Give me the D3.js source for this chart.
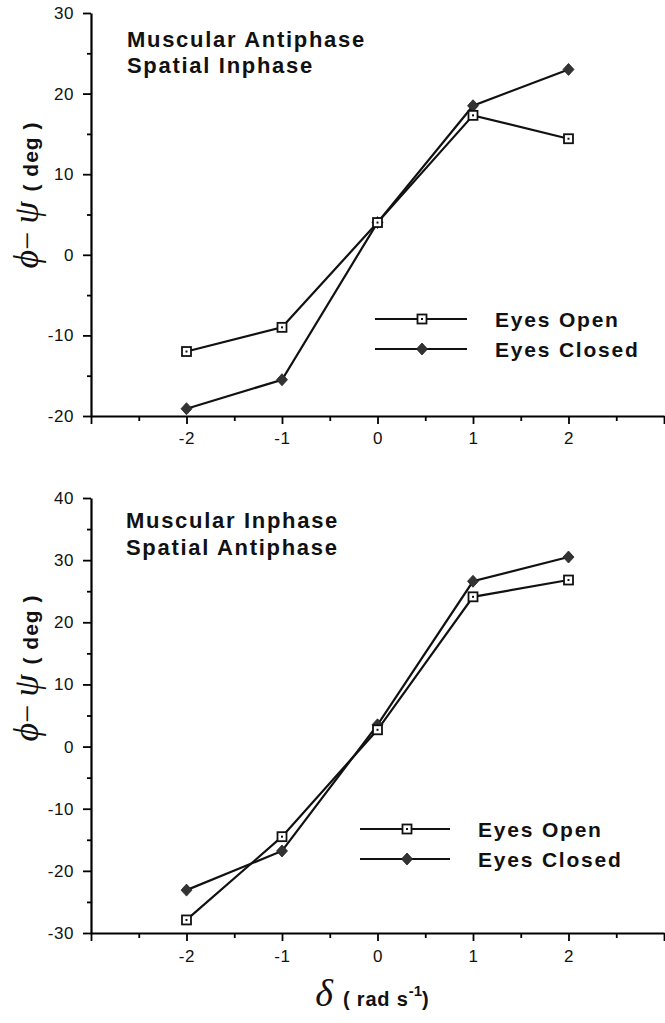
<!DOCTYPE html>
<html>
<head>
<meta charset="utf-8">
<script src="https://cdn.jsdelivr.net/npm/d3@7"></script>
<style>
  body { margin: 0; background: #fff; }
  svg { display: block; }
  .tick text { font-family: "Liberation Sans", Arial, sans-serif; }
</style>
</head>
<body>
<div id="chart"></div>
<script>
// delta values on the x axis (rad s^-1)
const deltas = [-2, -1, 0, 1, 2];

// top panel: muscular antiphase / spatial inphase
const topOpen   = [-12, -9, 4, 17.3, 14.4];
const topClosed = [-19.1, -15.5, 4, 18.5, 23];

// bottom panel: muscular inphase / spatial antiphase
const botOpen   = [-27.9, -14.5, 2.7, 24.1, 26.8];
const botClosed = [-23.1, -16.8, 3.5, 26.6, 30.5];

const xMajor = [-3, -2, -1, 0, 1, 2, 3];
const xMinor = [-2.5, -1.5, -0.5, 0.5, 1.5, 2.5];
const topYMajor = [-20, -10, 0, 10, 20, 30];
const topYMinor = [-15, -5, 5, 15, 25];
const botYMajor = [-30, -20, -10, 0, 10, 20, 30, 40];
const botYMinor = [-25, -15, -5, 5, 15, 25, 35];

const width = 665;
const height = 1023;

const svg = d3.select("#chart")
    .append("svg")
    .attr("width", width)
    .attr("height", height);

const x = d3.scaleLinear().domain([-3, 3]).range([91, 664]);

const panels = [
    {
        title: ["Muscular Antiphase", "Spatial Inphase"],
        titleX: 127, titleY: [47, 73],
        y: d3.scaleLinear().domain([-20, 30]).range([416, 13]),
        yMajor: topYMajor, yMinor: topYMinor,
        open: topOpen, closed: topClosed,
        legend: { x1: 375, x2: 467, mx: 422, y: [319, 349], tx: 495 },
        yTitleY: 195, labelPad: 8
    },
    {
        title: ["Muscular Inphase", "Spatial Antiphase"],
        titleX: 126, titleY: [528, 555],
        y: d3.scaleLinear().domain([-30, 40]).range([933, 498]),
        yMajor: botYMajor, yMinor: botYMinor,
        open: botOpen, closed: botClosed,
        legend: { x1: 360, x2: 450, mx: 407, y: [829, 859], tx: 478 },
        yTitleY: 668, labelPad: 9
    }
];

// marker drawing helpers
function drawSquare(g, cx, cy) {
    g.append("rect")
        .attr("x", cx - 4.5).attr("y", cy - 4.5)
        .attr("width", 9).attr("height", 9)
        .attr("fill", "#fff").attr("stroke", "#111").attr("stroke-width", 1.8);
    g.append("rect")
        .attr("x", cx - 1).attr("y", cy - 1)
        .attr("width", 2).attr("height", 2)
        .attr("fill", "#111");
}
function drawDiamond(g, cx, cy) {
    g.append("path")
        .attr("d", "M0,-6L5.5,0L0,6L-5.5,0Z")
        .attr("transform", `translate(${cx},${cy})`)
        .attr("fill", "#333").attr("stroke", "#222").attr("stroke-width", 0.8);
}

panels.forEach(function (p) {
    const g = svg.append("g");
    const y = p.y;
    const x0 = x.range()[0];
    const y0 = y.range()[0];

    // x axis: major and minor ticks
    g.append("g")
        .attr("transform", `translate(0,${y0})`)
        .call(d3.axisBottom(x).tickValues(xMinor).tickSize(5).tickFormat("").tickSizeOuter(0))
        .call(a => a.select(".domain").remove())
        .selectAll("line").attr("stroke-width", 1.8);
    g.append("g")
        .attr("transform", `translate(0,${y0})`)
        .call(d3.axisBottom(x).tickValues(xMajor).tickSize(8).tickPadding(p.labelPad)
            .tickFormat(d => Math.abs(d) === 3 ? "" : String(d)).tickSizeOuter(0))
        .call(a => a.select(".domain").attr("stroke-width", 2.2))
        .call(a => a.selectAll("line").attr("stroke-width", 1.8))
        .call(a => a.selectAll("text").attr("font-size", 17).attr("fill", "#111").attr("letter-spacing", "0.6px"));

    // y axis: major and minor ticks
    g.append("g")
        .attr("transform", `translate(${x0},0)`)
        .call(d3.axisLeft(y).tickValues(p.yMinor).tickSize(4).tickFormat("").tickSizeOuter(0))
        .call(a => a.select(".domain").remove())
        .selectAll("line").attr("stroke-width", 1.8);
    g.append("g")
        .attr("transform", `translate(${x0},0)`)
        .call(d3.axisLeft(y).tickValues(p.yMajor).tickSize(8).tickPadding(9)
            .tickFormat(d => String(d)).tickSizeOuter(0))
        .call(a => a.select(".domain").attr("stroke-width", 2.2))
        .call(a => a.selectAll("line").attr("stroke-width", 1.8))
        .call(a => a.selectAll("text").attr("font-size", 17).attr("fill", "#111").attr("letter-spacing", "0.6px"));

    // panel title
    g.selectAll(".ptitle")
        .data(p.title)
        .join("text")
        .attr("class", "ptitle")
        .attr("x", p.titleX)
        .attr("y", (d, i) => p.titleY[i])
        .attr("font-family", "'Liberation Sans', Arial, sans-serif")
        .attr("font-weight", "bold")
        .attr("font-size", 22)
        .attr("letter-spacing", "1.7px")
        .attr("fill", "#111")
        .text(d => d);

    // y axis title
    const yt = g.append("text")
        .attr("transform", `translate(38,${p.yTitleY}) rotate(-90)`)
        .attr("text-anchor", "middle")
        .attr("fill", "#111");
    yt.append("tspan")
        .attr("font-family", "'Liberation Serif', 'DejaVu Serif', serif")
        .attr("font-style", "italic").attr("font-size", 36)
        .text("ϕ");
    yt.append("tspan")
        .attr("font-family", "'Liberation Serif', serif").attr("font-size", 32)
        .text("− ");
    yt.append("tspan")
        .attr("font-family", "'Liberation Serif', 'DejaVu Serif', serif")
        .attr("font-style", "italic").attr("font-size", 36)
        .text("ψ");
    yt.append("tspan")
        .attr("font-family", "'Liberation Sans', Arial, sans-serif")
        .attr("font-weight", "bold").attr("font-size", 21)
        .attr("dx", 10)
        .attr("letter-spacing", "1px")
        .text("( deg )");

    // series lines
    const line = d3.line().x((d, i) => x(deltas[i])).y(d => y(d));
    [p.open, p.closed].forEach(function (vals) {
        g.append("path")
            .datum(vals)
            .attr("d", line)
            .attr("fill", "none")
            .attr("stroke", "#111")
            .attr("stroke-width", 2.2);
    });

    // markers
    p.closed.forEach((v, i) => drawDiamond(g, x(deltas[i]), y(v)));
    p.open.forEach((v, i) => drawSquare(g, x(deltas[i]), y(v)));

    // legend
    const L = p.legend;
    const names = ["Eyes Open", "Eyes Closed"];
    names.forEach(function (name, i) {
        g.append("line")
            .attr("x1", L.x1).attr("x2", L.x2)
            .attr("y1", L.y[i]).attr("y2", L.y[i])
            .attr("stroke", "#111").attr("stroke-width", 1.8);
        if (i === 0) drawSquare(g, L.mx, L.y[i]);
        else drawDiamond(g, L.mx, L.y[i]);
        g.append("text")
            .attr("x", L.tx)
            .attr("y", L.y[i] + 8)
            .attr("font-family", "'Liberation Sans', Arial, sans-serif")
            .attr("font-weight", "bold")
            .attr("font-size", 21)
            .attr("letter-spacing", "1.8px")
            .attr("fill", "#111")
            .text(name);
    });
});

// x axis title (shared, under bottom panel)
const xt = svg.append("text")
    .attr("x", 372)
    .attr("y", 1006)
    .attr("text-anchor", "middle")
    .attr("fill", "#111");
xt.append("tspan")
    .attr("font-family", "'Liberation Serif', 'DejaVu Serif', serif")
    .attr("font-style", "italic").attr("font-size", 38)
    .text("δ");
xt.append("tspan")
    .attr("font-family", "'Liberation Sans', Arial, sans-serif")
    .attr("font-weight", "bold").attr("font-size", 20)
    .attr("dx", 10)
    .attr("letter-spacing", "0.8px")
    .text("( rad s");
xt.append("tspan")
    .attr("font-family", "'Liberation Sans', Arial, sans-serif")
    .attr("font-weight", "bold").attr("font-size", 15)
    .attr("dy", -10)
    .text("-1");
xt.append("tspan")
    .attr("font-family", "'Liberation Sans', Arial, sans-serif")
    .attr("font-weight", "bold").attr("font-size", 20)
    .attr("dy", 10)
    .text(")");
</script>
</body>
</html>
